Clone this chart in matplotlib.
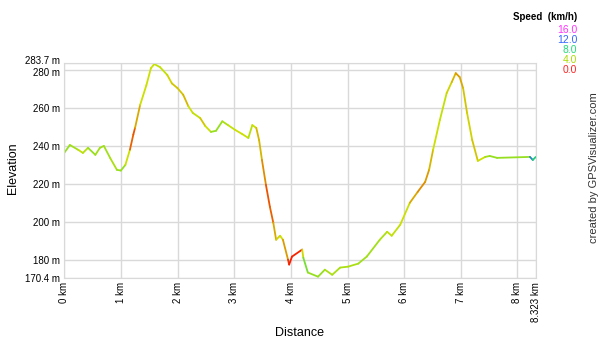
import numpy as np
import matplotlib
matplotlib.use("Agg")
import matplotlib.pyplot as plt
from matplotlib.collections import LineCollection
from matplotlib.colors import LinearSegmentedColormap
import matplotlib.transforms as mtrans

plt.rcParams['font.family'] = ['Liberation Sans', 'DejaVu Sans']

# profil: udaljenost (km), visina (m), brzina (km/h)
dist = [0.0, 0.1, 0.25, 0.33, 0.42, 0.55, 0.63, 0.7, 0.81, 0.93, 1.0, 1.08, 1.16,
        1.22, 1.25, 1.34, 1.45, 1.53, 1.59, 1.69, 1.82, 1.9, 2.0, 2.1, 2.19, 2.27,
        2.4, 2.49, 2.59, 2.68, 2.79, 2.89, 3.02, 3.14, 3.25, 3.32, 3.39, 3.44,
        3.49, 3.56, 3.63, 3.69, 3.74, 3.81, 3.86, 3.95, 3.97, 4.02, 4.2, 4.22,
        4.3, 4.48, 4.6, 4.73, 4.87, 5.01, 5.19, 5.34, 5.57, 5.7, 5.78, 5.93,
        6.1, 6.24, 6.37, 6.44, 6.51, 6.63, 6.75, 6.84, 6.91, 6.98, 7.04, 7.11,
        7.2, 7.3, 7.43, 7.51, 7.64, 8.22, 8.27, 8.323]
elev = [236.3, 240.5, 237.9, 236.3, 239.0, 235.3, 239.0, 240.0, 233.7, 227.4,
        227.0, 230.0, 238.0, 246.0, 249.5, 261.6, 272.0, 281.0, 283.2, 281.6,
        277.4, 273.0, 270.5, 267.0, 261.0, 257.4, 254.7, 250.5, 247.4, 248.0,
        253.0, 251.0, 248.4, 246.3, 244.2, 251.0, 249.5, 243.0, 232.6, 219.5,
        207.9, 199.5, 190.5, 192.6, 190.5, 180.0, 177.4, 181.6, 185.3, 181.0,
        173.2, 171.0, 174.7, 172.0, 175.8, 176.3, 177.9, 181.6, 190.5, 194.7,
        192.6, 198.4, 210.0, 215.8, 221.0, 227.4, 237.9, 253.7, 267.9, 273.7,
        278.4, 276.3, 270.5, 257.4, 243.2, 232.1, 234.2, 234.7, 233.7, 234.2,
        232.6, 234.2]
speed = [5.0, 5.5, 4.5, 4.0, 5.0, 5.5, 4.5, 5.5, 4.5, 5.0, 5.5, 5.0, 3.0,
         0.5, 2.5, 3.5, 4.5, 3.5, 4.5, 4.0, 4.5, 3.0, 4.0, 3.0, 3.5, 4.5,
         4.0, 3.0, 5.0, 5.5, 5.0, 4.5, 4.0, 4.0, 4.0, 5.0, 3.0, 3.5,
         3.0, 2.0, 1.0, 2.5, 3.5, 4.0, 4.0, 1.5, 0.5, 0.5, 0.8, 7.0,
         5.0, 5.5, 5.0, 4.5, 5.0, 4.5, 5.0, 5.0, 5.0, 4.5, 4.0, 4.5,
         3.5, 2.5, 2.5, 3.0, 3.5, 4.5, 4.0, 3.5, 3.0, 2.5, 3.5, 3.5,
         4.0, 3.0, 5.0, 5.0, 5.5, 5.0, 16.0, 1.0]

xticks = [0, 1, 2, 3, 4, 5, 6, 7, 8, 8.323]
xlabels = ['0 km', '1 km', '2 km', '3 km', '4 km', '5 km', '6 km', '7 km', '8 km', '8.323 km']
yticks = [170.4, 180, 200, 220, 240, 260, 280, 283.7]
ylabels = ['170.4 m', '180 m', '200 m', '220 m', '240 m', '260 m', '280 m', '283.7 m']

leg_vals = [16.0, 12.0, 8.0, 4.0, 0.0]
leg_cols = ['#ff33ff', '#3366ff', '#22dd77', '#aadd00', '#ff2222']

cmap = LinearSegmentedColormap.from_list(
    'speed', [(0, '#ff0000'), (0.25, '#cce000'), (0.5, '#22dd66'),
              (0.75, '#2255ff'), (1.0, '#ff00ff')])

fig = plt.figure(figsize=(6, 3.43), dpi=100)
ax = fig.add_axes([0.107, 0.19, 0.786, 0.626])

pts = np.array([dist, elev]).T.reshape(-1, 1, 2)
segs = np.concatenate([pts[:-1], pts[1:]], axis=1)
sp = np.array(speed)
lc = LineCollection(segs, cmap=cmap, norm=plt.Normalize(0, 16), linewidth=1.3,
                    capstyle='round', joinstyle='round')
lc.set_array((sp[:-1] + sp[1:]) / 2)
ax.add_collection(lc)

ax.set_xlim(0, 8.323)
ax.set_ylim(170.4, 283.7)
ax.set_xticks(xticks)
ax.set_xticklabels(xlabels, rotation=90, fontsize=7)
ax.set_yticks(yticks)
ax.set_yticklabels(ylabels, fontsize=7)
ax.tick_params(length=0, pad=3)
ax.grid(True, color='#d9d9d9', linewidth=1)
ax.set_axisbelow(True)
for s in ax.spines.values():
    s.set_color('#d9d9d9')

# razmakni gornje oznake
top_lbl = ax.get_yticklabels()[-1]
top_lbl.set_transform(top_lbl.get_transform() +
                      mtrans.ScaledTranslation(0, 2 / 72, fig.dpi_scale_trans))
ax.get_yticklabels()[-2].set_transform(
    ax.get_yticklabels()[-2].get_transform() +
    mtrans.ScaledTranslation(0, -1 / 72, fig.dpi_scale_trans))

fig.text(0.5, 1 - 333 / 343, 'Distance', ha='center', va='center', fontsize=9)
fig.text(0.022, 1 - 168 / 343, 'Elevation', ha='center', va='center', fontsize=9,
         rotation=90)

fig.text(0.962, 1 - 17 / 343, 'Speed  (km/h)', ha='right', va='center', fontsize=7,
         fontweight='bold')
for i, (v, c) in enumerate(zip(leg_vals, leg_cols)):
    fig.text(0.962, 1 - (30 + 10 * i) / 343, '%.1f' % v, ha='right', va='center',
             fontsize=7.5, color=c)
fig.text(0.99, 1 - 168 / 343, 'created by GPSVisualizer.com', rotation=90,
         ha='center', va='center', fontsize=8, color='#333333')

fig.savefig('out.png', dpi=100)
